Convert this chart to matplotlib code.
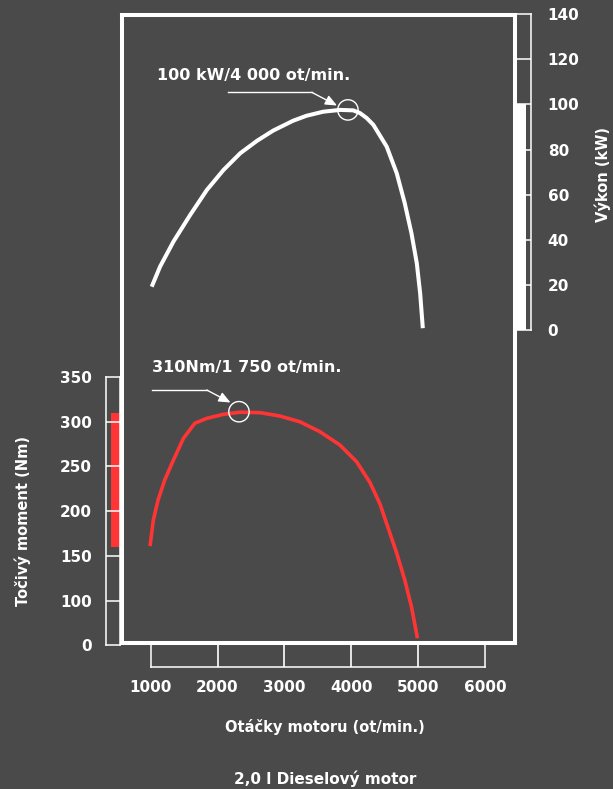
import matplotlib
matplotlib.use("Agg")
import matplotlib.pyplot as plt
import numpy as np

# engine speed (ot/min) and power (kW)
POWER_RPM = [1015, 1140, 1340, 1590, 1840, 2090, 2340, 2590, 2830, 3130, 3330, 3580,
             3830, 4030, 4130, 4230, 4330, 4530, 4680, 4800, 4900, 4980, 5030, 5070]
POWER_KW = [19.2, 28.1, 39.2, 51.0, 62.1, 71.0, 78.4, 83.9, 88.4, 92.8, 95.0, 96.8,
            97.6, 97.4, 96.2, 94.0, 91.0, 81.3, 69.5, 56.2, 42.9, 29.6, 16.3, 0.8]

# engine speed (ot/min) and torque (Nm)
TORQUE_RPM = [990, 1040, 1110, 1210, 1340, 1490, 1660, 1840, 2090, 2340, 2640,
              2930, 3230, 3530, 3830, 4080, 4280, 4430, 4550, 4680, 4800, 4900, 4990]
TORQUE_NM = [161, 190.2, 212.5, 234.9, 257.2, 281.5, 298.3, 303.8, 308.3, 310.7, 310.1,
             306.4, 300.0, 288.9, 274.0, 255.3, 232.0, 208.0, 181.5, 153.0, 123.1, 93.3, 58.0]

RPM_TICKS = [1000, 2000, 3000, 4000, 5000, 6000]
POWER_TICKS = [0, 20, 40, 60, 80, 100, 120, 140]
POWER_BAR = (0, 100)
# torque scale is broken: the lowest tick is labelled 0
TORQUE_TICKS = [50, 100, 150, 200, 250, 300, 350]
TORQUE_TICK_LABELS = ["0", "100", "150", "200", "250", "300", "350"]
TORQUE_BAR = (160, 310)

POWER_PEAK = (3950, 97.6)
TORQUE_PEAK = (2320, 311.2)
POWER_NOTE = "100 kW/4 000 ot/min."
TORQUE_NOTE = "310Nm/1 750 ot/min."

BG = "#4a4a4a"
RED = "#ff3535"
WHITE = "white"
W, H = 613, 789

plt.rcParams["font.family"] = ["DejaVu Sans"]
plt.rcParams["font.weight"] = "bold"

fig = plt.figure(figsize=(W / 100, H / 100), dpi=100, facecolor=BG)


def px_axes(x0, y0, x1, y1):
    ax = fig.add_axes([x0 / W, 1 - y1 / H, (x1 - x0) / W, (y1 - y0) / H])
    ax.patch.set_alpha(0)
    return ax


def scale_box(ax):
    for sp in ax.spines.values():
        sp.set_color(WHITE)
        sp.set_linewidth(1.1)
    ax.tick_params(length=0, colors=WHITE, labelsize=11)


# main frame
frame = px_axes(122, 15, 514.5, 643)
frame.set_xticks([])
frame.set_yticks([])
for sp in frame.spines.values():
    sp.set_color(WHITE)
    sp.set_linewidth(2.9)

# power scale on the right
ps = px_axes(516, 14.3, 531, 330)
ps.set_xlim(0, 1)
ps.set_ylim(0, 140)
ps.bar(0, POWER_BAR[1] - POWER_BAR[0], bottom=POWER_BAR[0], width=0.65,
       align="edge", color=WHITE, zorder=1)
for t in POWER_TICKS[1:-1]:
    ps.axhline(t, color=WHITE, lw=1.1, zorder=2)
scale_box(ps)
ps.set_xticks([])
ps.yaxis.tick_right()
ps.set_yticks(POWER_TICKS)
ps.tick_params(axis="y", pad=12)
fig.text(603 / W, 1 - 174 / H, "Výkon (kW)", rotation=90, ha="center", va="center",
         color=WHITE, fontsize=10.5, fontweight="bold")

# torque scale on the left
ts = px_axes(106, 377, 120, 645.4)
ts.set_xlim(0, 1)
ts.set_ylim(50, 350)
ts.bar(0.36, TORQUE_BAR[1] - TORQUE_BAR[0], bottom=TORQUE_BAR[0], width=0.64,
       align="edge", color=RED, zorder=1)
for t in TORQUE_TICKS[1:-1]:
    ts.axhline(t, color=WHITE, lw=1.1, zorder=2)
scale_box(ts)
ts.set_xticks([])
ts.set_yticks(TORQUE_TICKS)
ts.set_yticklabels(TORQUE_TICK_LABELS)
ts.tick_params(axis="y", pad=10)
fig.text(23 / W, 1 - 521 / H, "Točivý moment (Nm)", rotation=90, ha="center", va="center",
         color=WHITE, fontsize=10.5, fontweight="bold")

# rpm scale below
xs = px_axes(150.7, 643, 485, 667)
xs.set_xlim(1000, 6000)
xs.set_ylim(0, 1)
for t in RPM_TICKS[1:-1]:
    xs.axvline(t, color=WHITE, lw=1.2)
scale_box(xs)
xs.spines["top"].set_visible(False)
xs.set_yticks([])
xs.set_xticks(RPM_TICKS)
xs.tick_params(axis="x", pad=9)
fig.text(325 / W, 1 - 727 / H, "Otáčky motoru (ot/min.)", ha="center", va="center",
         color=WHITE, fontsize=10.5, fontweight="bold")
fig.text(325 / W, 1 - 779 / H, "2,0 l Dieselový motor", ha="center", va="center",
         color=WHITE, fontsize=11, fontweight="bold")

# curves
axp = px_axes(150.7, 14.3, 485, 330)
axp.set_xlim(1000, 6000)
axp.set_ylim(0, 140)
axp.axis("off")
axp.plot(POWER_RPM, POWER_KW, color=WHITE, lw=2.9, solid_capstyle="butt",
         solid_joinstyle="round", clip_on=False)
axp.scatter(*POWER_PEAK, s=215, facecolors="none", edgecolors=WHITE, linewidths=1, zorder=3)

axt = px_axes(150.7, 377, 485, 645.4)
axt.set_xlim(1000, 6000)
axt.set_ylim(50, 350)
axt.axis("off")
axt.plot(TORQUE_RPM, TORQUE_NM, color=RED, lw=2.6, solid_capstyle="butt",
         solid_joinstyle="round", clip_on=False)
axt.scatter(*TORQUE_PEAK, s=215, facecolors="none", edgecolors=WHITE, linewidths=1, zorder=3)

# annotation leaders in pixel space
ov = px_axes(0, 0, W, H)
ov.set_xlim(0, W)
ov.set_ylim(H, 0)
ov.axis("off")
for (x0, y0), (x1, y1), tip in [((228, 92.3), (311.7, 92.3), (337, 105.5)),
                                ((151.7, 390), (206.7, 390), (230.5, 402.5))]:
    ov.plot([x0, x1], [y0, y1], color=WHITE, lw=1)
    ov.annotate("", xy=tip, xytext=(x1, y1),
                arrowprops=dict(arrowstyle="-|>,head_length=0.7,head_width=0.3",
                                color=WHITE, lw=1, shrinkA=0, shrinkB=0))
ov.text(156.7, 75, POWER_NOTE, ha="left", va="center", color=WHITE, fontsize=11.5,
        fontweight="bold")
ov.text(151.7, 367, TORQUE_NOTE, ha="left", va="center", color=WHITE, fontsize=11.5,
        fontweight="bold")

fig.savefig("out.png", dpi=100, facecolor=BG)
